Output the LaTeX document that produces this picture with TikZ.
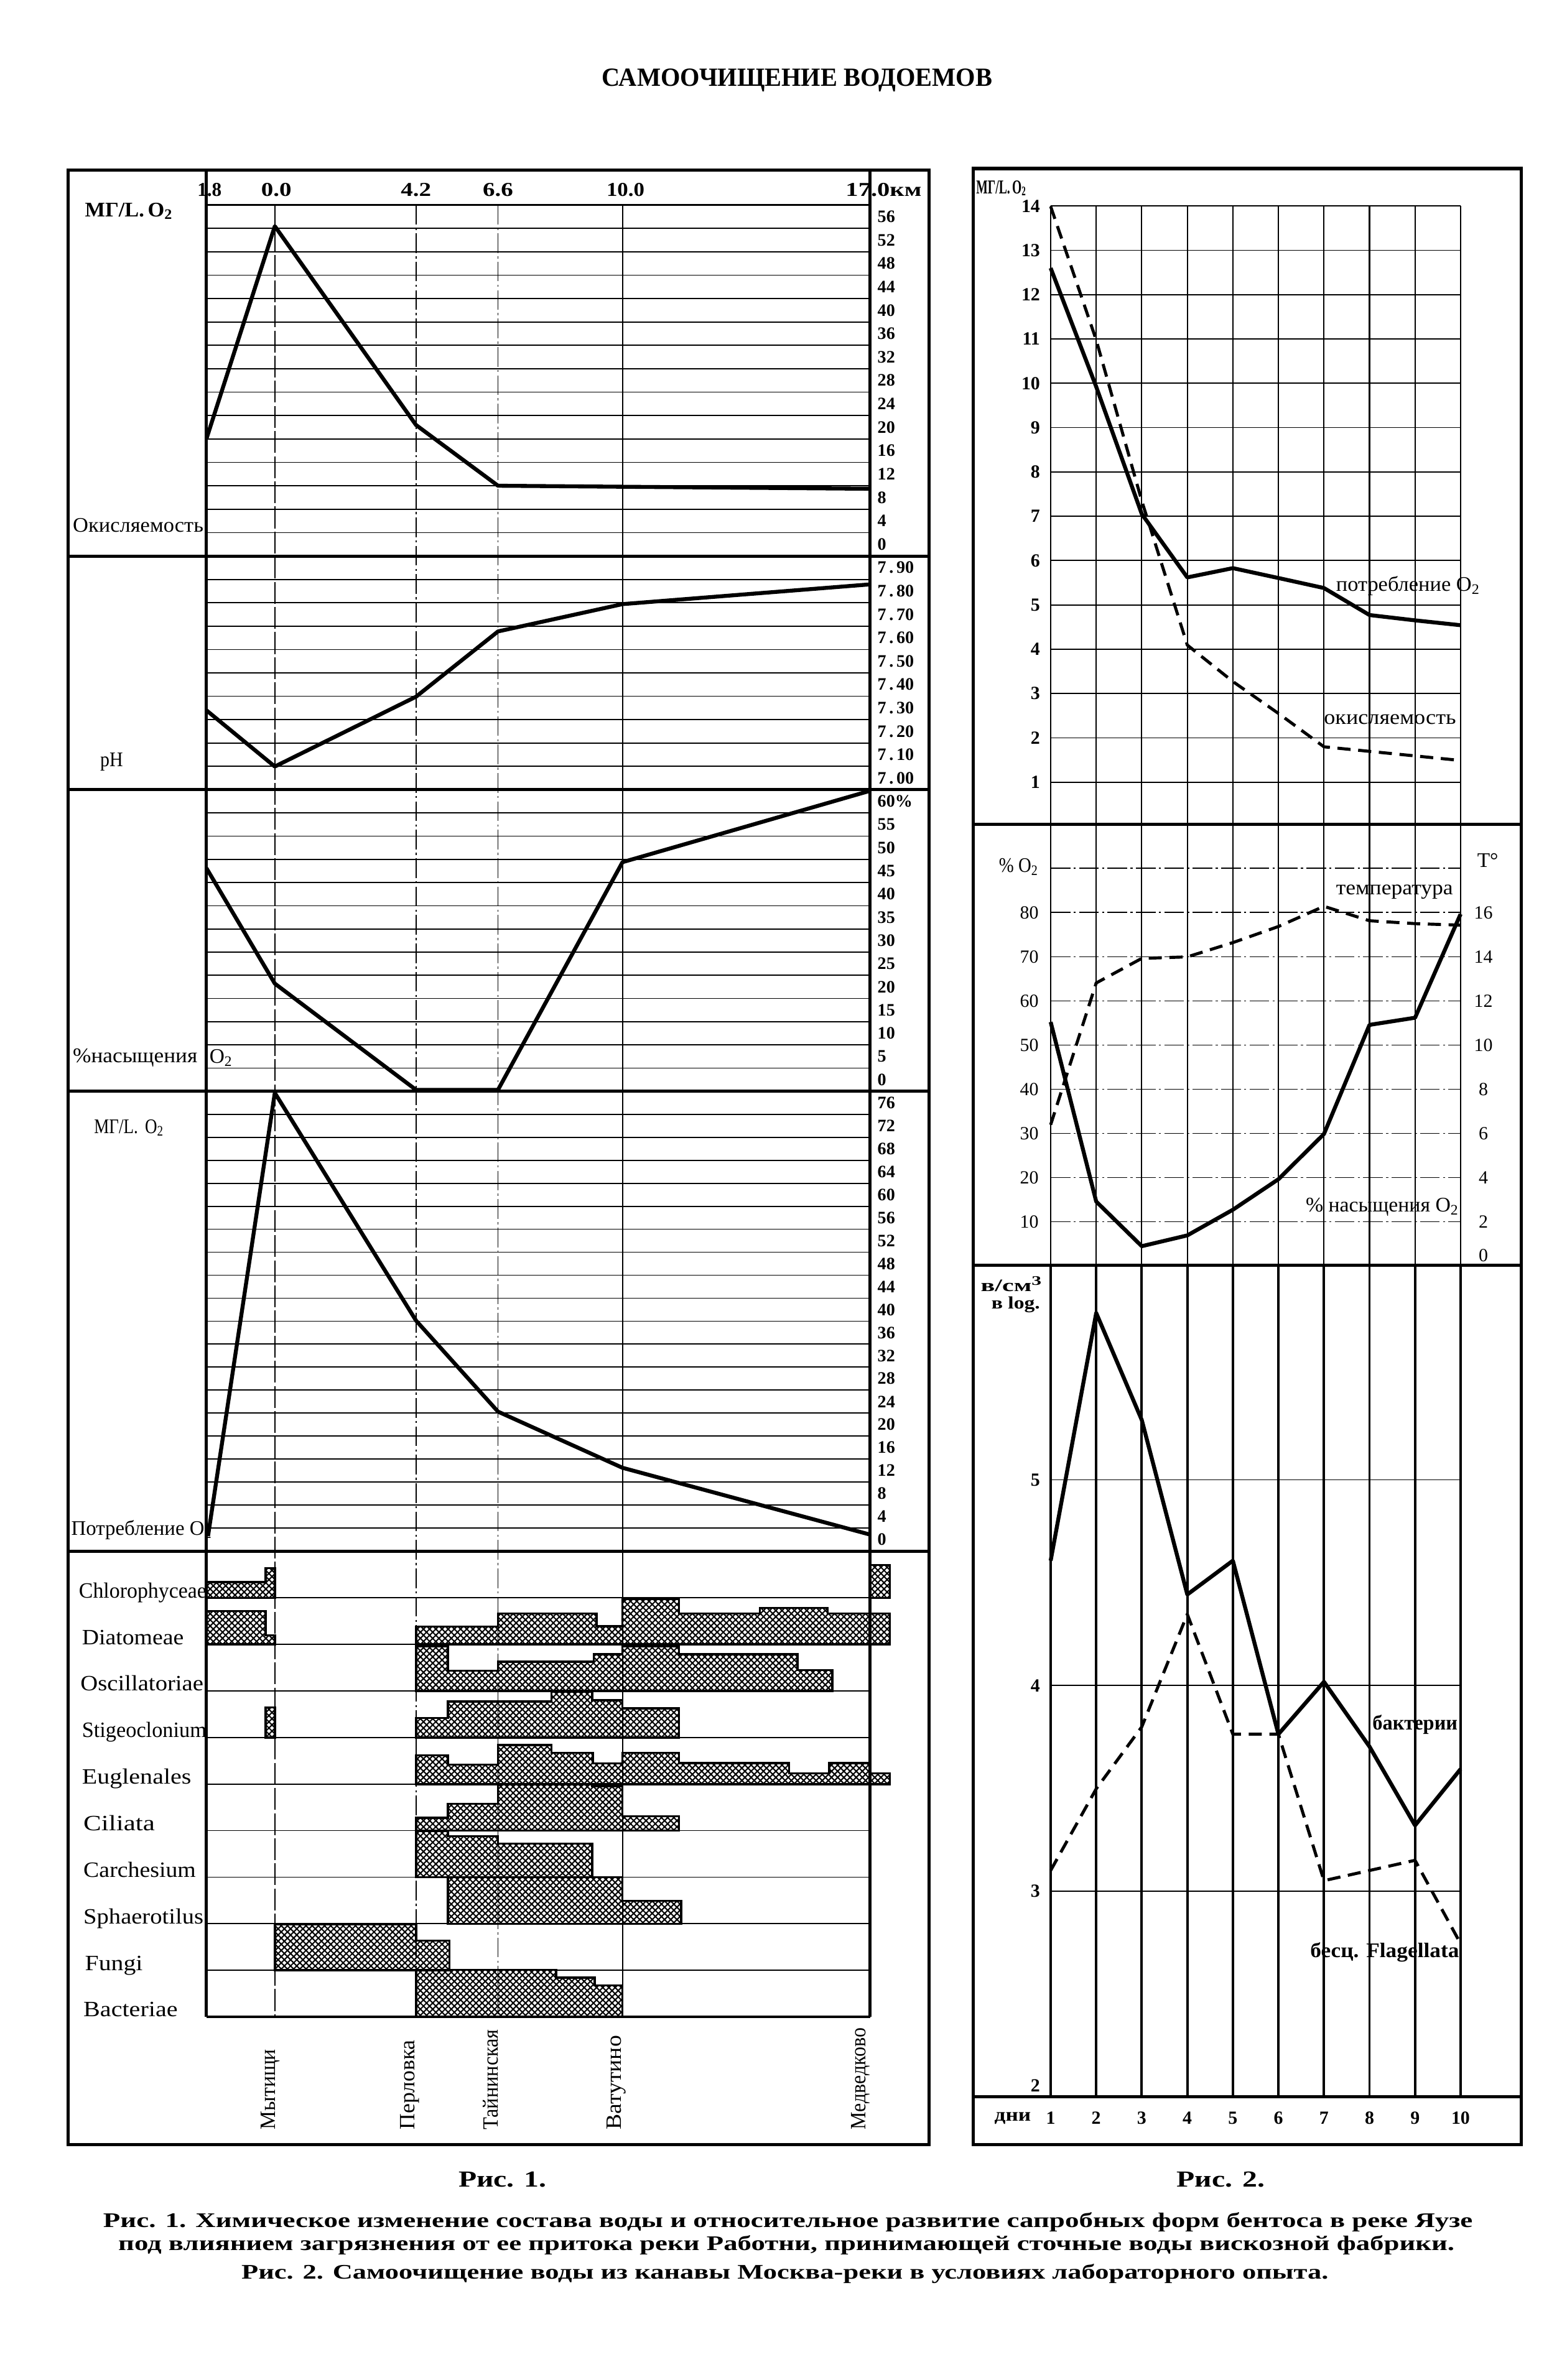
\documentclass[tikz,border=0pt]{standalone}
\usepackage{fontspec}
\setmainfont{Liberation Serif}
\usepackage{graphicx}
\usetikzlibrary{patterns.meta}
\newlength\U
\setlength\U{0.02441cm}
\newcommand\fw[2]{\resizebox{#1\U}{\height}{#2}}
\begin{document}
\begin{tikzpicture}[x=0.02441cm,y=-0.02441cm,
  every node/.style={inner sep=0pt,outer sep=0pt},
  frame/.style={line width=1.5pt},
  sep/.style={line width=1.4pt},
  hline/.style={line width=0.9pt},
  grid/.style={line width=0.5pt},
  vgrid/.style={line width=0.6pt},
  dgrid/.style={line width=0.5pt,dash pattern=on 9pt off 1.5pt on 1pt off 1.5pt},
  curve/.style={line width=1.8pt,line join=round},
  dcurve/.style={line width=1.4pt,dash pattern=on 6pt off 3.5pt},
  bar/.style={line width=1pt,pattern={Hatch[distance=2pt,angle=45,line width=0.6pt]}},
  num/.style={font=\fontsize{8}{9}\bfseries\selectfont,anchor=west},
  hdr/.style={font=\fontsize{9}{10}\bfseries\selectfont},
  lbl/.style={font=\fontsize{9.5}{11}\selectfont,anchor=west},
  blbl/.style={font=\fontsize{9.5}{11}\bfseries\selectfont,anchor=west},
  org/.style={font=\fontsize{10}{11}\selectfont,anchor=base west},
  stn/.style={font=\fontsize{10}{11}\selectfont,rotate=90,anchor=west},
  fnum/.style={font=\fontsize{8.5}{9}\bfseries\selectfont,anchor=east},
  bnum/.style={font=\fontsize{8.5}{9}\selectfont},
  captxt/.style={font=\fontsize{9.5}{10}\bfseries\selectfont}
]
\useasboundingbox (0,0) rectangle (1032,1568);
\fill[white] (0,0) rectangle (1032,1568);

% ---------- title ----------
\node[font=\fontsize{12}{13}\bfseries\selectfont] (title) at (525,53) {\fw{257}{САМООЧИЩЕНИЕ ВОДОЕМОВ}};

% ================= FIG 1 =================
\foreach \k in {1,...,14} \draw[grid] (136,{135+\k*15.42}) -- (573,{135+\k*15.42});
\foreach \k in {1,...,9} \draw[grid] (136,{366.3+\k*15.4}) -- (573,{366.3+\k*15.4});
\foreach \k in {1,...,12} \draw[grid] (136,{520.3+\k*15.28}) -- (573,{520.3+\k*15.28});
\foreach \k in {1,...,19} \draw[grid] (136,{719+\k*15.14}) -- (573,{719+\k*15.14});
\foreach \k in {1,...,9} \draw[grid] (136,{1022+\k*30.67}) -- (573,{1022+\k*30.67});

% organism bars
\draw[bar] (136,1052.7) -- (136,1042.4) -- (175,1042.4) -- (175,1033) -- (181,1033) -- (181,1052.7) -- cycle;
\draw[bar] (573,1052.7) -- (573,1031) -- (586,1031) -- (586,1052.7) -- cycle;
\draw[bar] (136,1083.3) -- (136,1061.4) -- (175,1061.4) -- (175,1077.3) -- (181,1077.3) -- (181,1083.3) -- cycle;
\draw[bar] (274,1083.3) -- (274,1071.7) -- (328,1071.7) -- (328,1063) -- (393,1063) -- (393,1071.3) -- (410,1071.3) -- (410,1053.5) -- (447.3,1053.5) -- (447.3,1063) -- (500.4,1063) -- (500.4,1059.3) -- (545.2,1059.3) -- (545.2,1063) -- (586,1063) -- (586,1083.3) -- cycle;
\draw[bar] (274,1114) -- (274,1084.5) -- (295,1084.5) -- (295,1100.6) -- (328,1100.6) -- (328,1094.8) -- (391,1094.8) -- (391,1089.9) -- (410,1089.9) -- (410,1084.5) -- (447.3,1084.5) -- (447.3,1089.9) -- (525.3,1089.9) -- (525.3,1100.2) -- (548.2,1100.2) -- (548.2,1114) -- cycle;
\draw[bar] (175,1144.7) -- (175,1124.8) -- (181,1124.8) -- (181,1144.7) -- cycle;
\draw[bar] (274,1144.7) -- (274,1131.8) -- (295,1131.8) -- (295,1120.9) -- (363.2,1120.9) -- (363.2,1114.7) -- (390,1114.7) -- (390,1120.2) -- (410,1120.2) -- (410,1125.4) -- (447.3,1125.4) -- (447.3,1144.7) -- cycle;
\draw[bar] (274,1175.4) -- (274,1156.4) -- (295,1156.4) -- (295,1162.5) -- (328,1162.5) -- (328,1149.7) -- (363.2,1149.7) -- (363.2,1154.7) -- (390.4,1154.7) -- (390.4,1161.7) -- (410,1161.7) -- (410,1154.7) -- (447.3,1154.7) -- (447.3,1161.5) -- (519.7,1161.5) -- (519.7,1168.3) -- (546.2,1168.3) -- (546.2,1161.5) -- (573,1161.5) -- (573,1168.3) -- (586,1168.3) -- (586,1175.4) -- cycle;
\draw[bar] (274,1206) -- (274,1197.6) -- (295,1197.6) -- (295,1188.4) -- (328,1188.4) -- (328,1175.4) -- (390,1175.4) -- (390,1177) -- (410,1177) -- (410,1196.6) -- (447.3,1196.6) -- (447.3,1206) -- cycle;
\draw[bar] (274,1236.7) -- (274,1206.3) -- (295,1206.3) -- (295,1209.6) -- (328,1209.6) -- (328,1214.6) -- (390,1214.6) -- (390,1236.7) -- cycle;
\draw[bar] (295,1267.4) -- (295,1236.8) -- (410,1236.8) -- (410,1252.3) -- (448.7,1252.3) -- (448.7,1267.4) -- cycle;
\draw[bar] (181,1298) -- (181,1267.6) -- (274,1267.6) -- (274,1278.5) -- (296,1278.5) -- (296,1298) -- cycle;
\draw[bar] (274,1328.7) -- (274,1297.7) -- (366.2,1297.7) -- (366.2,1302.9) -- (391.6,1302.9) -- (391.6,1308) -- (410,1308) -- (410,1328.7) -- cycle;

% vertical lines
\draw[vgrid,dash pattern=on 10pt off 1.5pt] (181,135) -- (181,1328.7);
\draw[dgrid] (274,135) -- (274,1328.7);
\draw[dgrid] (328,135) -- (328,1328.7);
\draw[vgrid] (410,135) -- (410,1328.7);
\draw[hline] (136,135) -- (573,135);
\draw[sep] (136,112) -- (136,1328.7);
\draw[sep] (573,112) -- (573,1328.7);
\draw[sep] (136,1328.7) -- (573,1328.7);
\foreach \yy in {366.3,520.3,719,1022} \draw[sep] (45,\yy) -- (612,\yy);
\draw[frame] (45,112) rectangle (612,1413);

% curves
\draw[curve] (136,289) -- (181,149) -- (274,280) -- (328,320) -- (573,322);
\draw[curve] (136,468) -- (181,505) -- (274,459) -- (328,416) -- (410,398) -- (573,385);
\draw[curve] (136,572) -- (181,648) -- (274,718) -- (328,718) -- (410,568) -- (573,521);
\draw[curve] (137,1012) -- (181,720) -- (274,870) -- (328,930) -- (410,967) -- (573,1011);

% header
\node[hdr] (h18) at (138,125) {\fw{16}{1.8}};
\node[hdr] (h00) at (182,125) {\fw{20}{0.0}};
\node[hdr] (h42) at (274,125) {\fw{20}{4.2}};
\node[hdr] (h66) at (328,125) {\fw{20}{6.6}};
\node[hdr] (h10) at (412,125) {\fw{25}{10.0}};
\node[hdr] (h17) at (582,125) {\fw{50}{17.0км}};

% scales
\foreach \v [count=\k] in {56,52,...,0} \node[num] (sa\k) at (578,{135+(\k-0.5)*15.42}) {\v};
\foreach \v [count=\k] in {90,80,70,60,50,40,30,20,10,00} \node[num] (sb\k) at (578,{366.3+(\k-0.5)*15.4}) {7\,.\,\v};
\node[num] (sc0) at (578,{520.3+0.5*15.28}) {60\%};
\foreach \v [count=\k] in {55,50,...,0} \node[num] (sc\k) at (578,{520.3+(\k+0.5)*15.28}) {\v};
\foreach \v [count=\k] in {76,72,...,0} \node[num] (sd\k) at (578,{719+(\k-0.5)*15.14}) {\v};

% left labels
\node[blbl] (l1) at (56,139) {\fw{58}{МГ/L.\,O\textsubscript{2}}};
\node[lbl] (l2) at (48,346) {\fw{86}{Окисляемость}};
\node[lbl] (l3) at (66,502) {\fw{15}{pH}};
\node[lbl] (l4) at (48,697) {\fw{82}{\%насыщения}};
\node[lbl] (l4b) at (138,697) {O\textsubscript{2}};
\node[lbl] (l5) at (62,743) {\fw{46}{МГ/L.\, O\textsubscript{2}}};
\node[lbl] (l6) at (47,1008) {\fw{93}{Потребление O\textsubscript{2}}};

% organism names
\foreach \nm/\ww/\xx [count=\i] in {Chlorophyceae/84/52,Diatomeae/67/54,Oscillatoriae/81/53,Stigeoclonium/82/54,Euglenales/72/54,Ciliata/47/55,Carchesium/74/55,Sphaerotilus/79/55,Fungi/38/56,Bacteriae/62/55}
  \node[org] (org\i) at (\xx,{1022+\i*30.67}) {\fw{\ww}{\nm}};

% station names
\foreach \nm/\ww/\xx [count=\i] in {Мытищи/53/178,Перловка/59/270,Тайнинская/66/323,Ватутино/62/406,Медведково/67/567}
  \node[stn] (st\i) at (\xx,1403) {\fw{\ww}{\nm}};

% ================= FIG 2 =================
\foreach \v in {1,...,14} \draw[grid] (692,{515.3-(\v-1)*29.2}) -- (962,{515.3-(\v-1)*29.2});
\foreach \v in {10,20,...,90} \draw[dgrid] (692,{834-2.91*\v}) -- (962,{834-2.91*\v});
\foreach \v in {3,4,5} \draw[grid] (692,{1381.4-(\v-2)*135.5}) -- (962,{1381.4-(\v-2)*135.5});
\foreach \k in {0,...,9} {
  \draw[vgrid] ({692+30*\k},135.7) -- ({692+30*\k},833.5);
  \draw[line width=1.1pt] ({692+30*\k},833.5) -- ({692+30*\k},1381.4);
}
\draw[sep] (641,543) -- (1002,543);
\draw[sep] (641,833.5) -- (1002,833.5);
\draw[sep] (641,1381.4) -- (1002,1381.4);
\draw[frame] (641,111) rectangle (1002,1413);

% curves fig 2
\draw[curve] (692,176.6) -- (722,254.8) -- (752,338.6) -- (782,380.4) -- (812,374.3) -- (842,380.8) -- (872,387.4) -- (902,405.2) -- (932,408.7) -- (962,411.9);
\draw[dcurve] (692,136) -- (722,224) -- (752,330) -- (782,425) -- (812,449) -- (842,470) -- (872,492) -- (902,495) -- (932,498) -- (962,501);
\draw[curve] (692,673.3) -- (722,791.6) -- (752,821) -- (782,813.9) -- (812,797) -- (842,776.9) -- (872,747.1) -- (902,675.2) -- (932,670.5) -- (962,602.2);
\draw[dcurve] (692,741) -- (722,647.6) -- (752,631.4) -- (782,630.4) -- (812,621) -- (842,610.4) -- (872,597.1) -- (902,606.6) -- (932,608.5) -- (962,609.5);
\draw[curve] (692,1028.2) -- (722,865) -- (752,935.5) -- (782,1050.5) -- (812,1028.2) -- (842,1142.5) -- (872,1108) -- (902,1150.7) -- (932,1202.6) -- (962,1165.5);
\draw[dcurve] (692,1232.3) -- (722,1178.5) -- (752,1137.7) -- (782,1063.5) -- (812,1142.5) -- (842,1142.5) -- (872,1239) -- (902,1232.3) -- (932,1225.6) -- (962,1280.5);

% labels fig 2
\node[font=\fontsize{9}{10}\bfseries\selectfont,anchor=west] (m1) at (643,124) {\fw{33}{МГ/L.\,O\textsubscript{2}}};
\foreach \v in {1,...,14} \node[fnum] (ta\v) at (685,{515.3-(\v-1)*29.2}) {\v};
\node[lbl] (tac1) at (880,386) {\fw{95}{потребление O\textsubscript{2}}};
\node[lbl] (tac2) at (872,474) {\fw{87}{окисляемость}};

\node[lbl] (tbu) at (658,571) {\fw{26}{\% O\textsubscript{2}}};
\node[lbl] (tbt) at (973,567) {T°};
\foreach \v in {10,20,...,80} \node[bnum,anchor=east] (tb\v) at (684,{834-2.91*\v}) {\v};
\foreach \v in {2,4,...,16} \node[bnum] (tt\v) at (977,{834-14.55*\v}) {\v};
\node[bnum] (tt0) at (977,827) {0};
\node[lbl] (tbc1) at (880,587.5) {\fw{77}{температура}};
\node[lbl] (tbc2) at (860,795.4) {\fw{101}{\% насыщения O\textsubscript{2}}};

\node[font=\fontsize{8}{9}\bfseries\selectfont,anchor=west] (tcu1) at (646,846) {\fw{41}{в/см\textsuperscript{3}}};
\node[font=\fontsize{8}{9}\bfseries\selectfont,anchor=west] (tcu2) at (653,859.5) {\fw{32}{в log.}};
\foreach \v in {3,4,5} \node[fnum] (tc\v) at (685,{1381.4-(\v-2)*135.5}) {\v};
\node[fnum] (tc2) at (685,1374) {2};
\node[blbl] (tcc1) at (904,1136) {\fw{56}{бактерии}};
\node[blbl] (tcc2) at (863,1286) {\fw{98}{бесц. Flagellata}};

\node[font=\fontsize{8.5}{9}\bfseries\selectfont,anchor=west] (dni) at (655,1395.5) {\fw{24}{дни}};
\foreach \k in {1,...,10} \node[font=\fontsize{8.5}{9}\bfseries\selectfont] (d\k) at ({692+30*(\k-1)},1395.5) {\k};

% ================= captions =================
\node[font=\fontsize{10.5}{11}\bfseries\selectfont] (r1) at (331,1436) {\fw{58}{Рис. 1.}};
\node[font=\fontsize{10.5}{11}\bfseries\selectfont] (r2) at (804,1436) {\fw{58}{Рис. 2.}};
\node[captxt] (c1) at (519,1464) {\fw{902}{Рис. 1. Химическое изменение состава воды и относительное развитие сапробных форм бентоса в реке Яузе}};
\node[captxt] (c2) at (518,1479) {\fw{880}{под влиянием загрязнения от ее притока реки Работни, принимающей сточные воды вискозной фабрики.}};
\node[captxt] (c3) at (517,1498) {\fw{716}{Рис. 2. Самоочищение воды из канавы Москва-реки в условиях лабораторного опыта.}};
\end{tikzpicture}
\end{document}
